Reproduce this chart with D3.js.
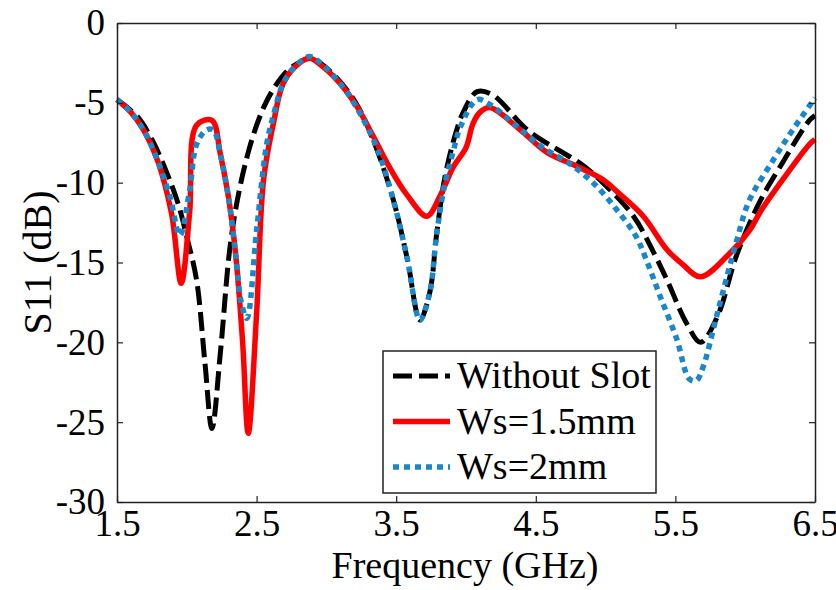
<!DOCTYPE html>
<html>
<head>
<meta charset="utf-8">
<script src="https://cdn.jsdelivr.net/npm/d3@7"></script>
<style>
  html, body { margin: 0; padding: 0; background: #fff; }
  svg { display: block; }
</style>
</head>
<body>
<div id="chart"></div>
<script>
// S11 vs frequency, three slot widths
const xTicks = [1.5, 2.5, 3.5, 4.5, 5.5, 6.5];
const yTicks = [0, -5, -10, -15, -20, -25, -30];

const freqNoSlot = [1.5, 1.65, 1.75, 1.81, 1.93, 2.0, 2.07, 2.13, 2.18, 2.24, 2.31, 2.38, 2.47, 2.55, 2.63, 2.72, 2.8, 2.88, 2.97, 3.09, 3.21, 3.33, 3.48, 3.58, 3.67, 3.74, 3.79, 3.85, 3.93, 3.98, 4.08, 4.19, 4.44, 4.67, 4.82, 4.98, 5.2, 5.34, 5.44, 5.58, 5.68, 5.8, 5.94, 6.11, 6.25, 6.46, 6.5];
const s11NoSlot = [-4.8, -5.9, -7.3, -8.4, -11.1, -13.4, -16.1, -21.3, -25.4, -20.7, -14.0, -10.3, -7.2, -5.3, -4.0, -3.0, -2.5, -2.2, -2.6, -3.6, -5.0, -7.2, -11.1, -14.8, -18.6, -16.9, -13.2, -9.6, -6.8, -5.6, -4.3, -4.5, -6.7, -8.0, -8.8, -10.0, -12.1, -14.3, -16.1, -18.8, -20.0, -18.4, -14.5, -11.1, -9.0, -6.1, -5.8];

const freqWs15 = [1.5, 1.6, 1.69, 1.79, 1.89, 1.96, 2.02, 2.07, 2.18, 2.24, 2.3, 2.35, 2.4, 2.44, 2.5, 2.55, 2.62, 2.69, 2.78, 2.88, 2.97, 3.09, 3.21, 3.33, 3.45, 3.58, 3.72, 3.81, 3.91, 4.0, 4.05, 4.1, 4.17, 4.39, 4.58, 4.8, 4.98, 5.1, 5.27, 5.44, 5.55, 5.68, 5.87, 6.03, 6.11, 6.27, 6.46, 6.5];
const s11Ws15 = [-4.8, -5.6, -6.7, -8.6, -11.9, -16.3, -11.9, -6.4, -6.1, -8.2, -11.0, -14.5, -20.0, -25.7, -18.2, -9.8, -6.3, -3.8, -2.7, -2.2, -2.7, -3.7, -5.1, -7.0, -9.0, -10.8, -12.1, -10.9, -9.0, -7.8, -6.3, -5.6, -5.3, -6.7, -8.1, -9.0, -9.8, -10.7, -12.1, -14.2, -15.1, -15.9, -14.6, -13.0, -11.8, -9.8, -7.6, -7.3];

const freqWs2 = [1.5, 1.6, 1.69, 1.79, 1.88, 1.95, 2.02, 2.07, 2.14, 2.19, 2.24, 2.3, 2.35, 2.39, 2.43, 2.5, 2.57, 2.62, 2.69, 2.78, 2.88, 2.97, 3.09, 3.21, 3.36, 3.48, 3.58, 3.67, 3.74, 3.79, 3.85, 3.91, 3.96, 4.08, 4.17, 4.37, 4.55, 4.74, 4.91, 5.08, 5.22, 5.29, 5.39, 5.51, 5.6, 5.65, 5.7, 5.8, 5.94, 6.03, 6.2, 6.34, 6.5];
const s11Ws2 = [-4.8, -5.6, -6.7, -8.6, -10.9, -13.3, -10.5, -7.6, -6.7, -6.7, -8.2, -11.0, -14.5, -17.5, -18.5, -13.0, -7.7, -5.8, -3.8, -2.7, -2.1, -2.6, -3.7, -5.2, -7.8, -11.1, -14.8, -18.6, -16.9, -13.2, -10.0, -8.0, -6.5, -4.8, -5.1, -6.5, -7.8, -8.8, -10.0, -11.7, -13.4, -14.8, -17.1, -19.8, -22.3, -22.4, -21.5, -18.2, -13.6, -11.1, -8.6, -6.7, -4.7];

const seriesNames = ['Without Slot', 'Ws=1.5mm', 'Ws=2mm'];

const W = 836, H = 590;
const M = { top: 23, right: 21, bottom: 88, left: 117 };
const FONT = '"Liberation Serif", "Times New Roman", serif';

const svg = d3.select('#chart').append('svg')
  .attr('width', W)
  .attr('height', H)
  .style('font-family', FONT);

const innerW = W - M.left - M.right;
const innerH = H - M.top - M.bottom;

const x = d3.scaleLinear().domain([1.5, 6.5]).range([M.left, M.left + innerW]);
const y = d3.scaleLinear().domain([-30, 0]).range([M.top + innerH, M.top]);

const series = [
  { name: seriesNames[0], f: freqNoSlot, v: s11NoSlot, color: '#000', width: 5, dash: '19,7' },
  { name: seriesNames[1], f: freqWs15, v: s11Ws15, color: '#ff0000', width: 5.5, dash: null },
  { name: seriesNames[2], f: freqWs2, v: s11Ws2, color: '#1b87c9', width: 5.5, dash: '6,5' }
];

const line = d3.line()
  .x(d => x(d[0]))
  .y(d => y(d[1]))
  .curve(d3.curveCatmullRom.alpha(0.5));

const plot = svg.append('g');
for (const s of series) {
  plot.append('path')
    .datum(s.f.map((f, i) => [f, s.v[i]]))
    .attr('d', line)
    .attr('fill', 'none')
    .attr('stroke', s.color)
    .attr('stroke-width', s.width)
    .attr('stroke-linejoin', 'round')
    .attr('stroke-dasharray', s.dash);
}

// Axes — ticks inward on all four sides
const tickLen = 6;
const axisColor = '#222';

function styleAxis(g) {
  g.select('.domain').attr('stroke', axisColor).attr('stroke-width', 1.5);
  g.selectAll('.tick line').attr('stroke', axisColor).attr('stroke-width', 1.2);
  g.selectAll('.tick text').attr('fill', '#000').style('font-family', FONT).style('font-size', '37px');
}

svg.append('g')
  .attr('transform', `translate(0,${M.top + innerH})`)
  .call(d3.axisBottom(x).tickValues(xTicks).tickFormat(d => d.toFixed(1))
    .tickSizeInner(-tickLen).tickSizeOuter(0).tickPadding(7))
  .call(styleAxis)
  .selectAll('.tick text').attr('dy', '0.72em');

svg.append('g')
  .attr('transform', `translate(0,${M.top})`)
  .call(d3.axisTop(x).tickValues(xTicks).tickFormat('')
    .tickSizeInner(-tickLen).tickSizeOuter(0))
  .call(styleAxis);

svg.append('g')
  .attr('transform', `translate(${M.left},0)`)
  .call(d3.axisLeft(y).tickValues(yTicks).tickFormat(d => String(d))
    .tickSizeInner(-tickLen).tickSizeOuter(0).tickPadding(12))
  .call(styleAxis);

svg.append('g')
  .attr('transform', `translate(${M.left + innerW},0)`)
  .call(d3.axisRight(y).tickValues(yTicks).tickFormat('')
    .tickSizeInner(-tickLen).tickSizeOuter(0))
  .call(styleAxis);

// Axis titles
svg.append('text')
  .attr('x', M.left + innerW / 2 - 1)
  .attr('y', 578)
  .attr('text-anchor', 'middle')
  .style('font-size', '38px')
  .text('Frequency (GHz)');

svg.append('text')
  .attr('transform', `translate(51,${M.top + innerH / 2}) rotate(-90)`)
  .attr('text-anchor', 'middle')
  .style('font-size', '40px')
  .text('S11 (dB)');

// Legend
const lg = svg.append('g').attr('transform', 'translate(383,351)');
lg.append('rect')
  .attr('width', 273).attr('height', 142)
  .attr('fill', '#fff')
  .attr('stroke', axisColor).attr('stroke-width', 1.5);

series.forEach((s, i) => {
  const cy = 25 + i * 45.5;
  lg.append('line')
    .attr('x1', 10).attr('x2', 67)
    .attr('y1', cy).attr('y2', cy)
    .attr('stroke', s.color)
    .attr('stroke-width', s.width)
    .attr('stroke-dasharray', s.dash);
  lg.append('text')
    .attr('x', 74)
    .attr('y', cy + 12)
    .style('font-size', '38px')
    .text(s.name);
});
</script>
</body>
</html>
